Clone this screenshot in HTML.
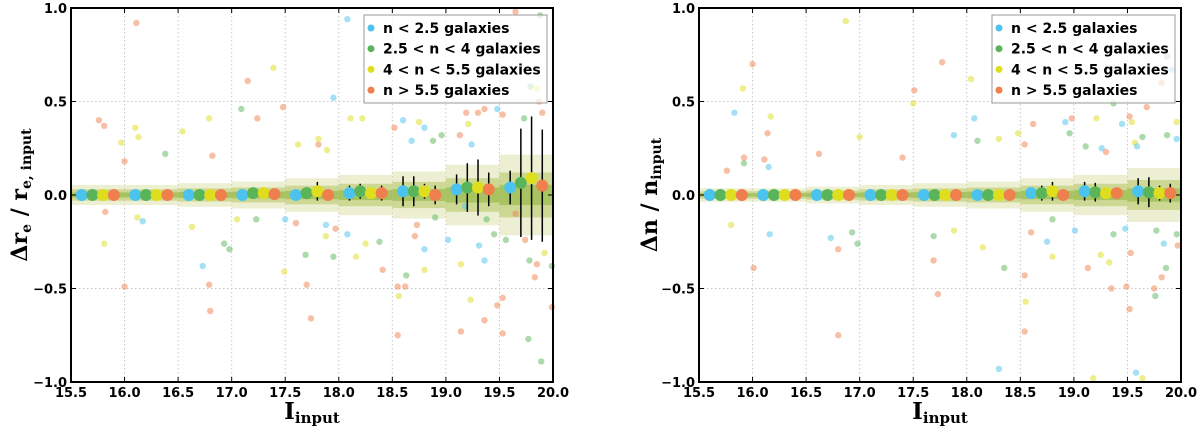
<!DOCTYPE html>
<html><head><meta charset="utf-8"><style>
html,body{margin:0;padding:0;background:#fff;width:1200px;height:429px;overflow:hidden}
svg text{font-family:"DejaVu Sans","Liberation Sans",sans-serif;font-weight:bold}
</style></head><body>
<svg id="chart" width="1200" height="429" xmlns="http://www.w3.org/2000/svg"></svg>
<script>
const xTicks=[15.5,16.0,16.5,17.0,17.5,18.0,18.5,19.0,19.5,20.0];
const yTicks=[-1.0,-0.5,0.0,0.5,1.0];
const seriesNames=["n < 2.5 galaxies","2.5 < n < 4 galaxies","4 < n < 5.5 galaxies","n > 5.5 galaxies"];
const seriesColors=["#4cc3ee","#5ab55a","#dede1e","#ef7f4c"];
const meanX=[15.6,15.7,15.8,15.9,16.1,16.2,16.3,16.4,16.6,16.7,16.8,16.9,17.1,17.2,17.3,17.4,17.6,17.7,17.8,17.9,18.1,18.2,18.3,18.4,18.6,18.7,18.8,18.9,19.1,19.2,19.3,19.4,19.6,19.7,19.8,19.9];
const leftMeanY=[0,0,0,0,0,0,0,0,0,0,0,0,0,0.01,0.01,0.005,0,0.01,0.02,0,0.01,0.02,0.01,0.01,0.02,0.02,0.02,0,0.03,0.04,0.04,0.03,0.04,0.065,0.09,0.05];
const leftErr=[0,0,0,0,0,0,0,0,0,0,0,0,0,0.02,0.01,0.01,0,0.02,0.05,0.01,0.04,0.04,0.03,0.04,0.08,0.08,0.04,0.05,0.08,0.13,0.15,0.09,0.09,0.29,0.33,0.3];
const rightMeanY=[0,0,0,0,0,0,0,0,0,0,0,0,0,0,0,0,0,0,0,0,0,0,0,0,0.01,0.01,0.02,0,0.02,0.015,0.01,0.01,0.02,0.015,0.01,0.01];
const rightErr=[0,0,0,0,0,0,0,0,0,0,0,0,0,0,0,0,0,0,0,0,0,0,0,0,0.03,0.04,0.05,0.01,0.05,0.05,0.03,0.03,0.07,0.08,0.04,0.05];
const bandX=[15.5,16.0,16.5,17.0,17.5,18.0,18.5,19.0,19.5];
const leftBand=[0.03,0.03,0.035,0.04,0.05,0.06,0.07,0.09,0.12];
const rightBand=[0.02,0.02,0.025,0.03,0.035,0.04,0.05,0.06,0.08];
const leftPts=[[16.11,.92,3],[17.39,.68,2],[17.15,.61,3],[17.09,.46,1],[17.48,.47,3],[17.24,.41,3],[15.76,.40,3],[15.81,.37,3],[16.1,.36,2],[16.13,.31,2],[15.97,.28,2],[16.79,.41,2],[16.54,.34,2],[16.38,.22,1],[16.0,.18,3],[16.82,.21,3],[17.95,.52,0],[18.08,.94,0],[19.65,.98,3],[19.88,.96,1],[19.85,.57,2],[19.87,.50,3],[19.9,.44,3],[19.36,.46,3],[19.48,.46,0],[19.3,.44,3],[19.73,.41,1],[19.19,.44,3],[19.53,.43,3],[19.79,.58,1],[19.21,.38,2],[18.8,.36,0],[18.75,.39,2],[18.52,.36,3],[18.68,.29,0],[18.88,.29,1],[19.13,.32,3],[19.24,.27,0],[17.81,.27,3],[17.89,.24,2],[18.22,.41,2],[18.11,.41,2],[18.6,.40,0],[17.62,.27,2],[17.81,.30,2],[18.96,.32,1],
[16.73,-.38,0],[16.8,-.62,3],[16.79,-.48,3],[16.0,-.49,3],[16.93,-.26,1],[16.98,-.29,1],[15.81,-.26,2],[17.49,-.41,2],[17.74,-.66,3],[17.7,-.48,3],[17.69,-.32,1],[17.95,-.33,1],[18.16,-.33,2],[18.41,-.40,3],[18.56,-.54,2],[18.55,-.49,3],[18.55,-.75,3],[18.62,-.49,3],[18.63,-.43,1],[18.8,-.40,2],[18.8,-.29,0],[19.02,-.24,0],[19.14,-.73,3],[19.23,-.56,2],[19.36,-.67,3],[19.36,-.35,0],[19.48,-.59,3],[19.53,-.55,3],[19.53,-.74,3],[19.77,-.77,1],[19.89,-.89,1],[19.78,-.35,1],[19.83,-.44,3],[19.85,-.37,3],[19.92,-.31,2],[19.99,-.38,1],[19.99,-.60,3],[19.56,-.24,1],[19.74,-.24,3],[19.65,-.10,3],[19.38,-.13,1],[18.08,-.21,0],[18.25,-.26,2],[17.97,-.18,3],[17.88,-.16,0],[17.88,-.22,2],[18.38,-.25,1],[18.71,-.22,3],[19.14,-.37,2],[19.31,-.27,0],[19.45,-.21,1],[17.5,-.13,0],[17.6,-.15,3],[17.05,-.13,2],[17.23,-.13,1],[16.63,-.17,2],[15.82,-.09,3],[16.17,-.14,0],[16.12,-.12,2],[18.9,-.12,1],[19.18,-.06,0],[18.73,-.16,3]];
const rightPts=[[16.87,.93,2],[16.0,.70,3],[15.91,.57,2],[15.83,.44,0],[16.17,.42,2],[16.14,.33,3],[15.92,.20,3],[15.92,.17,1],[16.11,.19,3],[16.15,.15,0],[15.76,.13,3],[16.62,.22,3],[17.0,.31,2],[17.4,.20,3],[17.5,.49,2],[17.51,.56,3],[17.77,.71,3],[18.04,.62,2],[18.07,.41,0],[17.88,.32,0],[18.1,.29,1],[18.3,.30,2],[18.62,.38,3],[18.48,.33,2],[18.54,.27,3],[18.98,.41,3],[18.92,.39,0],[18.96,.33,1],[19.37,.49,1],[19.52,.42,3],[19.68,.47,3],[19.54,.39,2],[19.45,.38,0],[19.64,.31,1],[19.57,.28,2],[19.59,.26,0],[19.82,.60,3],[19.91,.67,0],[19.87,.74,1],[19.96,.39,2],[19.96,.30,0],[19.87,.32,1],[19.21,.41,2],[19.11,.26,1],[19.26,.25,0],[19.3,.23,3],
[16.01,-.39,3],[16.16,-.21,0],[15.8,-.16,2],[16.98,-.26,1],[16.93,-.20,1],[16.73,-.23,0],[16.8,-.29,3],[16.8,-.75,3],[17.69,-.35,3],[17.73,-.53,3],[17.69,-.22,1],[17.88,-.19,2],[18.15,-.28,2],[18.35,-.39,1],[18.3,-.93,0],[18.54,-.43,3],[18.55,-.57,2],[18.54,-.73,3],[18.75,-.25,0],[18.8,-.33,2],[18.8,-.13,1],[19.01,-.19,0],[19.13,-.39,3],[19.18,-.98,2],[19.35,-.50,3],[19.33,-.36,2],[19.37,-.21,1],[19.53,-.31,3],[19.49,-.49,3],[19.52,-.61,3],[19.58,-.95,0],[19.64,-.98,2],[19.75,-.50,3],[19.76,-.54,1],[19.86,-.39,1],[19.82,-.44,3],[19.84,-.26,0],[19.77,-.19,1],[19.97,-.27,3],[19.96,-.21,1],[19.48,-.18,0],[19.25,-.32,2],[18.6,-.20,3]];

const NS="http://www.w3.org/2000/svg";
const svg=document.getElementById('chart');
function mk(tag,attrs,parent,txt){const e=document.createElementNS(NS,tag);for(const k in attrs)e.setAttribute(k,attrs[k]);if(txt!==undefined)e.textContent=txt;(parent||svg).appendChild(e);return e;}

function panel(id,L,R,T,B,meanY,err,band,pts,legX,yTitleX,yHTML){
  const g=mk('g',{});
  
  
  const xs=v=>L+(v-15.5)/4.5*(R-L);
  const ys=v=>T+(1-v)/2*(B-T);
  xTicks.forEach(t=>{const l=mk('line',{x1:xs(t),x2:xs(t),y1:T,y2:B,stroke:'#c8c8c8','stroke-dasharray':'1.5,2.5','stroke-width':1},g);
    });
  yTicks.forEach(t=>{const l=mk('line',{x1:L,x2:R,y1:ys(t),y2:ys(t),stroke:'#c8c8c8','stroke-dasharray':'1.5,2.5','stroke-width':1},g);
    });
  band.forEach((s,i)=>{
    const x0=xs(bandX[i]),x1=xs(bandX[i]+0.5);
    const r0=mk('rect',{x:x0,y:ys(s*1.8),width:x1-x0,height:ys(-s*1.8)-ys(s*1.8),fill:'#d6dc9c',opacity:0.45},g);
    
    const r1=mk('rect',{x:x0,y:ys(s),width:x1-x0,height:ys(-s)-ys(s),fill:'#b8c86c',opacity:0.6},g);
    
    const r2=mk('rect',{x:x0,y:ys(s*0.45),width:x1-x0,height:ys(-s*0.45)-ys(s*0.45),fill:'#93b845',opacity:0.65},g);
    
  });
  pts.forEach(p=>{if(p[0]<15.5||p[0]>20)return;
    const c=mk('circle',{cx:xs(p[0]),cy:ys(p[1]),r:3.2,fill:seriesColors[p[2]],opacity:0.5},g);
    });
  meanX.forEach((x,i)=>{
    if(err[i]>0){const l=mk('line',{x1:xs(x),x2:xs(x),y1:ys(meanY[i]+err[i]),y2:ys(meanY[i]-err[i]),stroke:'#000','stroke-width':1.5},g);
      }
  });
  meanX.forEach((x,i)=>{
    const c=mk('circle',{cx:xs(x),cy:ys(meanY[i]),r:6,fill:seriesColors[i%4]},g);
    
  });
  const lg=mk('g',{},g);
  
  mk('rect',{x:legX,y:15,width:183,height:88,fill:'#fff','fill-opacity':0.7,stroke:'#999','stroke-width':1},lg);
  seriesNames.forEach((n,i)=>{
    const e=mk('g',{},lg);
    
    mk('circle',{cx:legX+7,cy:28+i*20.7,r:3.5,fill:seriesColors[i]},e);
    mk('text',{x:legX+19,y:33+i*20.7,'font-size':14},e,n);
  });
  const fr=mk('rect',{x:L,y:T,width:R-L,height:B-T,fill:'none',stroke:'#000','stroke-width':2},g);
  
  xTicks.forEach(t=>{
    mk('line',{x1:xs(t),x2:xs(t),y1:B,y2:B-5,stroke:'#000'},g);
    mk('line',{x1:xs(t),x2:xs(t),y1:T,y2:T+5,stroke:'#000'},g);
    const tx=mk('text',{x:xs(t),y:B+15,'text-anchor':'middle','font-size':13},g,t.toFixed(1));
    
  });
  yTicks.forEach(t=>{
    mk('line',{x1:L,x2:L+5,y1:ys(t),y2:ys(t),stroke:'#000'},g);
    mk('line',{x1:R,x2:R-5,y1:ys(t),y2:ys(t),stroke:'#000'},g);
    const tx=mk('text',{x:L-4,y:ys(t)+5,'text-anchor':'end','font-size':13},g,(t<0?'\u2212':'')+Math.abs(t).toFixed(1));
    
  });
  const xt=mk('text',{x:(L+R)/2,y:419,'text-anchor':'middle','font-size':23,style:'font-family:"DejaVu Serif","Liberation Serif",serif'},g);
  
  xt.innerHTML='I<tspan font-size="15" dy="4">input</tspan>';
  const yt=mk('text',{x:0,y:0,'text-anchor':'middle','font-size':22,transform:`translate(${yTitleX},${(T+B)/2}) rotate(-90)`,style:'font-family:"DejaVu Serif","Liberation Serif",serif'},g);
  
  yt.innerHTML=yHTML;
}
panel('left',71,553,8,382,leftMeanY,leftErr,leftBand,leftPts,364,27,
 '\u0394r<tspan font-size="14" dy="4">e</tspan><tspan dy="-4"> / r</tspan><tspan font-size="14" dy="4">e, input</tspan>');
panel('right',699,1181,8,382,rightMeanY,rightErr,rightBand,rightPts,992,657,
 '\u0394n / n<tspan font-size="14" dy="4">input</tspan>');
</script>
</body></html>
